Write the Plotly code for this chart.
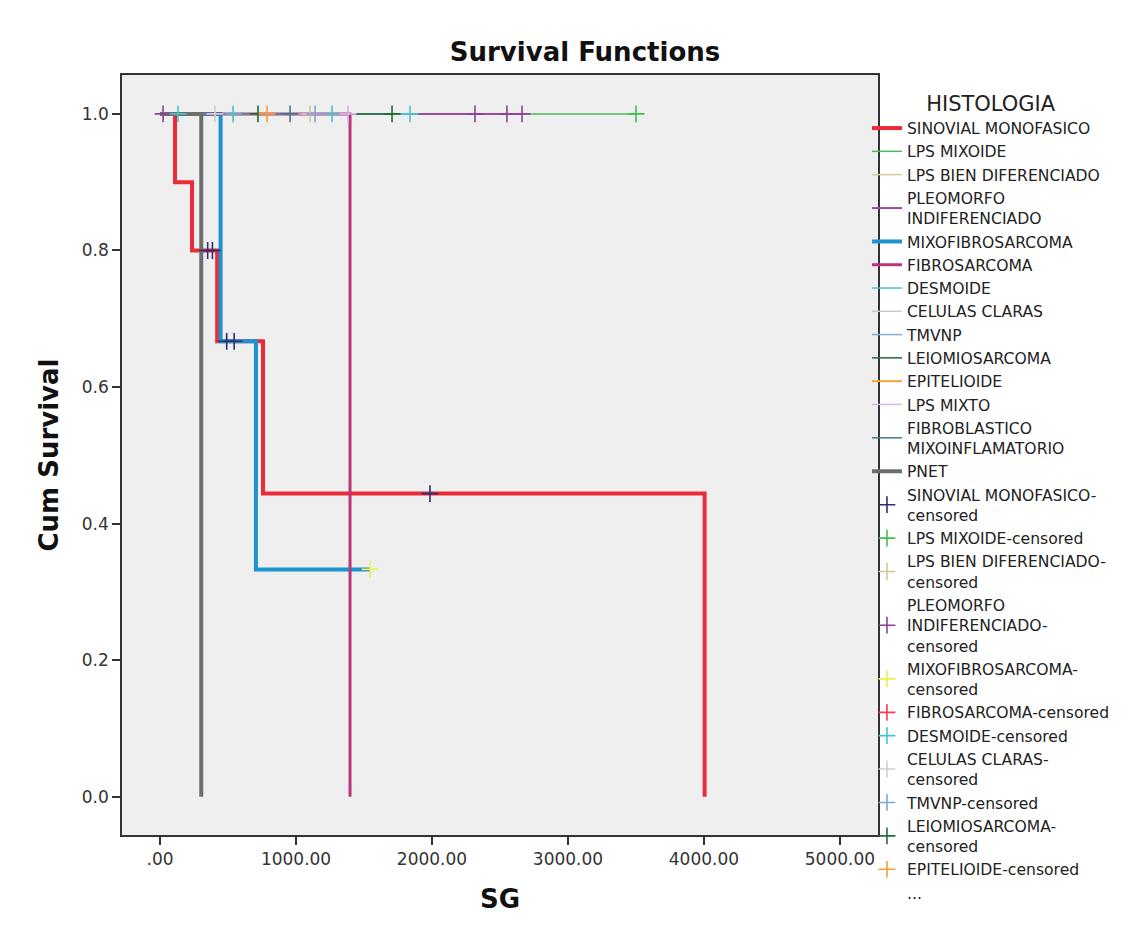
import plotly.graph_objects as go

# ---------------- data ----------------
# Groups with events: step curves (time, cumulative survival)
SIN_T = [0, 110, 235, 420, 757, 4005]
SIN_S = [1.0, 0.9, 0.8, 0.667, 0.444, 0.0]
SIN_CENS_T = [350, 385, 490, 545, 1985]
SIN_CENS_S = [0.8, 0.8, 0.667, 0.667, 0.444]

MIXF_T = [0, 445, 705, 1545]
MIXF_S = [1.0, 0.667, 0.333, 0.333]
MIXF_CENS_T = [1545]
MIXF_CENS_S = [0.333]

FIBRO_T = [0, 1397]
FIBRO_S = [1.0, 0.0]

PNET_T = [0, 303]
PNET_S = [1.0, 0.0]

# Groups with censored cases only (survival stays at 1.0)
LPSMIX_CENS = [3500]
LPSBIEN_CENS = [1103]
PLEO_CENS = [22, 2316, 2551, 2662]
DESM_CENS = [132, 537, 1265, 1838]
CEL_CENS = [404]
TMVNP_CENS = [1140]
LEIO_CENS = [720, 1706]
EPIT_CENS = [787]
LPSMIXTO_CENS = [1382]
FIBROBL_CENS = [956]

X_TICKS = [0, 1000, 2000, 3000, 4000, 5000]
X_TICKTEXT = [".00", "1000.00", "2000.00", "3000.00", "4000.00", "5000.00"]
Y_TICKS = [0.0, 0.2, 0.4, 0.6, 0.8, 1.0]

# ---------------- styling ----------------
FONT = "DejaVu Sans"
C = {
    "sin": "#ec2b36", "lpsmix": "#4cb85a", "lpsbien": "#d3cda0", "pleo": "#9a4d9e",
    "mixf": "#1b93cf", "fibro": "#b8357e", "desm": "#4cc3cb", "cel": "#c9c9c9",
    "tmvnp": "#86a9d8", "leio": "#27683c", "epit": "#f2a33a", "lpsmixto": "#d9b6e6",
    "fibrobl": "#3d7b8b", "pnet": "#6e6e6e",
}
CENS_COL = {
    "sin": "#2e2f73", "lpsmix": "#3fbf4f", "lpsbien": "#cfc89a", "pleo": "#8f3f98",
    "mixf": "#f2ee4a", "fibro": "#ff3a4a", "desm": "#45c4cc", "cel": "#cfcfcf",
    "tmvnp": "#7ea6dc", "leio": "#23693a", "epit": "#f5a030", "lpsmixto": "#d6b0e6",
    "fibrobl": "#3d7b8b", "pnet": "#6e6e6e",
}

fig = go.Figure()

def step_line(name, key, xs, ys, width):
    fig.add_trace(go.Scatter(
        x=xs, y=ys, mode="lines", name=name, line=dict(color=C[key], width=width, shape="hv"),
        hoverinfo="skip"))

def flat(cens):
    return [0] + [max(cens)], [1.0, 1.0]

step_line("SINOVIAL MONOFASICO", "sin", SIN_T, SIN_S, 4)
x, y = flat(LPSMIX_CENS); step_line("LPS MIXOIDE", "lpsmix", x, y, 1.5)
x, y = flat(LPSBIEN_CENS); step_line("LPS BIEN DIFERENCIADO", "lpsbien", x, y, 1.5)
x, y = flat(PLEO_CENS); step_line("PLEOMORFO<br>INDIFERENCIADO", "pleo", x, y, 2)
step_line("MIXOFIBROSARCOMA", "mixf", MIXF_T, MIXF_S, 4)
step_line("FIBROSARCOMA", "fibro", FIBRO_T, FIBRO_S, 3)
x, y = flat(DESM_CENS); step_line("DESMOIDE", "desm", x, y, 1.5)
x, y = flat(CEL_CENS); step_line("CELULAS CLARAS", "cel", x, y, 1.5)
x, y = flat(TMVNP_CENS); step_line("TMVNP", "tmvnp", x, y, 1.5)
x, y = flat(LEIO_CENS); step_line("LEIOMIOSARCOMA", "leio", x, y, 1.5)
x, y = flat(EPIT_CENS); step_line("EPITELIOIDE", "epit", x, y, 2)
x, y = flat(LPSMIXTO_CENS); step_line("LPS MIXTO", "lpsmixto", x, y, 1.5)
x, y = flat(FIBROBL_CENS); step_line("FIBROBLASTICO<br>MIXOINFLAMATORIO", "fibrobl", x, y, 1.5)
step_line("PNET", "pnet", PNET_T, PNET_S, 4)

def cens(name, key, xs, ys, show=True):
    fig.add_trace(go.Scatter(
        x=xs, y=ys, mode="markers", name=name, showlegend=show,
        marker=dict(symbol="cross-thin", size=12, color=CENS_COL[key],
                    line=dict(color=CENS_COL[key], width=1.6)),
        hoverinfo="skip"))

ones = lambda v: [1.0] * len(v)
cens("SINOVIAL MONOFASICO-<br>censored", "sin", SIN_CENS_T, SIN_CENS_S)
cens("LPS MIXOIDE-censored", "lpsmix", LPSMIX_CENS, ones(LPSMIX_CENS))
cens("LPS BIEN DIFERENCIADO-<br>censored", "lpsbien", LPSBIEN_CENS, ones(LPSBIEN_CENS))
cens("PLEOMORFO<br>INDIFERENCIADO-<br>censored", "pleo", PLEO_CENS, ones(PLEO_CENS))
cens("MIXOFIBROSARCOMA-<br>censored", "mixf", MIXF_CENS_T, MIXF_CENS_S)
cens("FIBROSARCOMA-censored", "fibro", [None], [None])
cens("DESMOIDE-censored", "desm", DESM_CENS, ones(DESM_CENS))
cens("CELULAS CLARAS-<br>censored", "cel", CEL_CENS, ones(CEL_CENS))
cens("TMVNP-censored", "tmvnp", TMVNP_CENS, ones(TMVNP_CENS))
cens("LEIOMIOSARCOMA-<br>censored", "leio", LEIO_CENS, ones(LEIO_CENS))
cens("EPITELIOIDE-censored", "epit", EPIT_CENS, ones(EPIT_CENS))
fig.add_trace(go.Scatter(x=[None], y=[None], mode="none", name="...", hoverinfo="skip"))
cens("LPS MIXTO-censored", "lpsmixto", LPSMIXTO_CENS, ones(LPSMIXTO_CENS), show=False)
cens("FIBROBLASTICO MIXOINFLAMATORIO-censored", "fibrobl", FIBROBL_CENS, ones(FIBROBL_CENS), show=False)

# page body has an 8px margin: figure coordinates are shifted by 8px
W, H = 1139, 917
fig.update_layout(
    width=W, height=H,
    paper_bgcolor="white", plot_bgcolor="#efefef",
    margin=dict(l=114, r=W - 870, t=67, b=H - 827, autoexpand=False),
    font=dict(family=FONT, color="#222222"),
    title=dict(text="<b>Survival Functions</b>", x=577 / W, xref="container", xanchor="center",
               y=1 - 44 / H, yref="container", yanchor="middle",
               font=dict(family=FONT, size=26, color="#111111")),
    showlegend=True,
    legend=dict(
        x=0.9854, xanchor="left", y=0.988, yanchor="top",
        title=dict(text="HISTOLOGIA", side="top center", font=dict(family=FONT, size=21, color="#222222")),
        font=dict(family=FONT, size=15.6, color="#222222"),
        bgcolor="rgba(0,0,0,0)", borderwidth=0, tracegroupgap=0, itemwidth=30,
        traceorder="normal",
    ),
)
try:
    fig.update_layout(legend_maxheight=900)
except Exception:
    pass

fig.update_xaxes(
    range=[-280, 5280], tickvals=X_TICKS, ticktext=X_TICKTEXT,
    showgrid=False, zeroline=False, showline=True, linecolor="#333333", linewidth=1.5, mirror=True,
    ticks="outside", ticklen=8, tickwidth=1.5, tickcolor="#333333",
    tickfont=dict(family=FONT, size=17, color="#333333"),
    title=dict(text="<b>SG</b>", font=dict(family=FONT, size=26, color="#111111"), standoff=22),
)
fig.update_yaxes(
    range=[-0.056, 1.057], tickvals=Y_TICKS, tickformat=".1f",
    showgrid=False, zeroline=False, showline=True, linecolor="#333333", linewidth=1.5, mirror=True,
    ticks="outside", ticklen=8, tickwidth=1.5, tickcolor="#333333",
    tickfont=dict(family=FONT, size=17, color="#333333"),
    title=dict(text="<b>Cum Survival</b>", font=dict(family=FONT, size=26, color="#111111"), standoff=16),
)

fig.write_html("out.html")
